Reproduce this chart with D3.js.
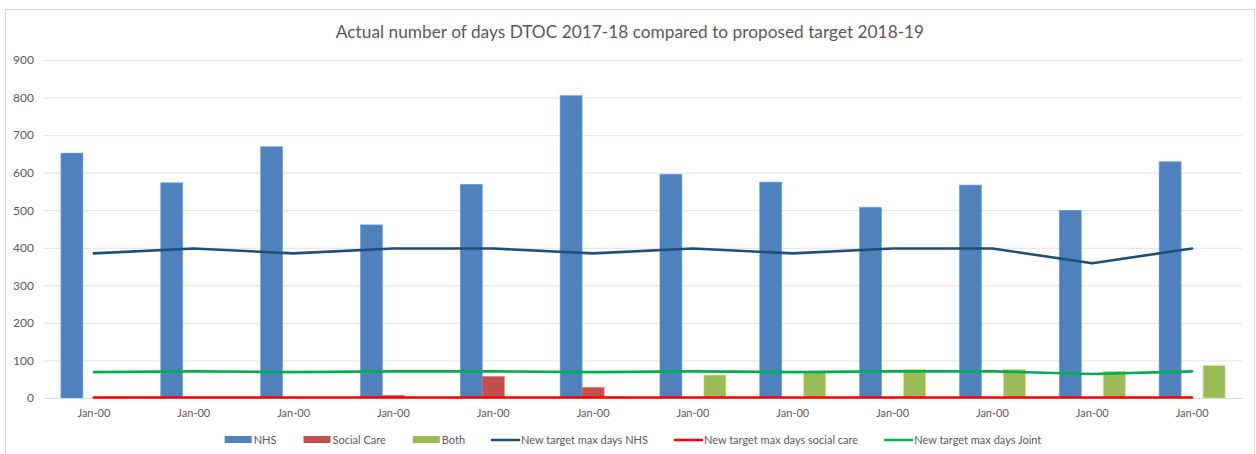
<!DOCTYPE html>
<html>
<head>
<meta charset="utf-8">
<script src="https://cdn.jsdelivr.net/npm/d3@7"></script>
<style>
  html, body { margin: 0; padding: 0; background: #fff; }
  svg { display: block; font-family: Lato, "Open Sans", sans-serif; }
</style>
</head>
<body>
<svg id="chart" width="1256" height="454"></svg>
<script>
const title = "Actual number of days DTOC 2017-18 compared to proposed target 2018-19";
const categories = ["Jan-00","Jan-00","Jan-00","Jan-00","Jan-00","Jan-00","Jan-00","Jan-00","Jan-00","Jan-00","Jan-00","Jan-00"];
const nhs = [652, 573, 669, 461, 569, 805, 596, 575, 508, 567, 500, 629];
const socialCare = [0, 0, 0, 7, 57, 28, 0, 0, 0, 0, 0, 0];
const both = [3, 0, 0, 0, 0, 3, 61, 68, 76, 76, 71, 86];
const targetNHS = [385, 398, 385, 398, 398, 385, 398, 385, 398, 398, 359, 398];
const targetSocial = [1.5, 1.5, 1.5, 1.5, 1.5, 1.5, 1.5, 1.5, 1.5, 1.5, 1.5, 1.5];
const targetJoint = [69, 71, 69, 71, 71, 69, 71, 69, 71, 71, 64, 71];
const yTicks = [0, 100, 200, 300, 400, 500, 600, 700, 800, 900];
const barSeries = ["NHS", "Social Care", "Both"];
const lineSeries = ["New target max days NHS", "New target max days social care", "New target max days Joint"];

const barColors = ["#4f81bd", "#c0504d", "#9bbb59"];
const lineColors = ["#1f4e79", "#ff0000", "#00b050"];

const svg = d3.select("#chart");
const plot = { left: 44, right: 1242, top: 60, bottom: 398 };

// outer chart border
svg.append("rect")
  .attr("x", 5.5).attr("y", 9.5)
  .attr("width", 1249).attr("height", 470)
  .attr("fill", "#fff").attr("stroke", "#d9d9d9").attr("stroke-width", 1);

// title
svg.append("text")
  .attr("x", 630).attr("y", 38)
  .attr("text-anchor", "middle")
  .attr("fill", "#595959")
  .style("font-size", "17.3px")
  .text(title);

const idx = d3.range(categories.length);
const x = d3.scaleBand().domain(idx).range([plot.left, plot.right]).paddingInner(0.339).paddingOuter(0.1695);
const xs = d3.scaleBand().domain(barSeries).range([0, x.bandwidth()]).padding(0);
const y = d3.scaleLinear().domain([0, 900]).range([plot.bottom, plot.top]);

// gridlines
svg.append("g")
  .attr("transform", `translate(${plot.left},0)`)
  .call(d3.axisLeft(y).tickValues(yTicks).tickSize(-(plot.right - plot.left)).tickFormat(""))
  .call(g => g.select(".domain").remove())
  .call(g => g.selectAll(".tick line").attr("stroke", "#e3e3e3").attr("stroke-width", 1));

// y labels
svg.append("g")
  .attr("transform", `translate(${plot.left},0)`)
  .call(d3.axisLeft(y).tickValues(yTicks).tickSize(0).tickPadding(10))
  .call(g => g.select(".domain").remove())
  .call(g => g.selectAll(".tick text").attr("fill", "#595959").style("font-size", "12px").style("font-family", "Lato, 'Open Sans', sans-serif"));

// bars
const barData = [nhs, socialCare, both];
barData.forEach((vals, si) => {
  svg.append("g").selectAll("rect")
    .data(vals)
    .join("rect")
    .attr("x", (d, i) => x(i) + xs(barSeries[si]))
    .attr("width", xs.bandwidth())
    .attr("y", d => y(d))
    .attr("height", d => y(0) - y(d))
    .attr("fill", barColors[si])
    .attr("stroke", d3.color(barColors[si]).brighter(0.6))
    .attr("stroke-width", 0.6);
});

// x axis
svg.append("g")
  .attr("transform", `translate(0,${plot.bottom})`)
  .call(d3.axisBottom(x).tickSize(0).tickPadding(11).tickFormat(i => categories[i]))
  .call(g => g.select(".domain").attr("stroke", "#d9d9d9"))
  .call(g => g.selectAll(".tick text").attr("fill", "#595959").style("font-size", "11px").style("font-family", "Lato, 'Open Sans', sans-serif"));

// lines
const lineData = [targetNHS, targetSocial, targetJoint];
const line = d3.line().x((d, i) => x(i) + x.bandwidth() / 2).y(d => y(d));
lineData.forEach((vals, si) => {
  svg.append("path")
    .datum(vals)
    .attr("d", line)
    .attr("fill", "none")
    .attr("stroke", lineColors[si])
    .attr("stroke-width", 2.6)
    .attr("stroke-linejoin", "round")
    .attr("stroke-linecap", "round");
});

// legend
const legend = svg.append("g").style("font-size", "11px");
const items = barSeries.map((s, i) => ({ name: s, type: "bar", color: barColors[i] }))
  .concat(lineSeries.map((s, i) => ({ name: s, type: "line", color: lineColors[i] })));
let cx = 0;
const legY = 440;
const gap = 27;
items.forEach((it) => {
  const g = legend.append("g").attr("transform", `translate(${cx},0)`);
  if (it.type === "bar") {
    g.append("rect").attr("x", 0).attr("y", legY - 4).attr("width", 27).attr("height", 7).attr("fill", it.color);
  } else {
    g.append("line").attr("x1", 0).attr("x2", 27).attr("y1", legY).attr("y2", legY)
      .attr("stroke", it.color).attr("stroke-width", 2.6).attr("stroke-linecap", "round");
  }
  const t = g.append("text").attr("x", 29).attr("y", legY + 4).attr("fill", "#595959").text(it.name);
  const w = t.node().getComputedTextLength();
  cx += 29 + w + gap;
});
const totalW = cx - gap;
legend.attr("transform", `translate(${633 - totalW / 2},0)`);
</script>
</body>
</html>
